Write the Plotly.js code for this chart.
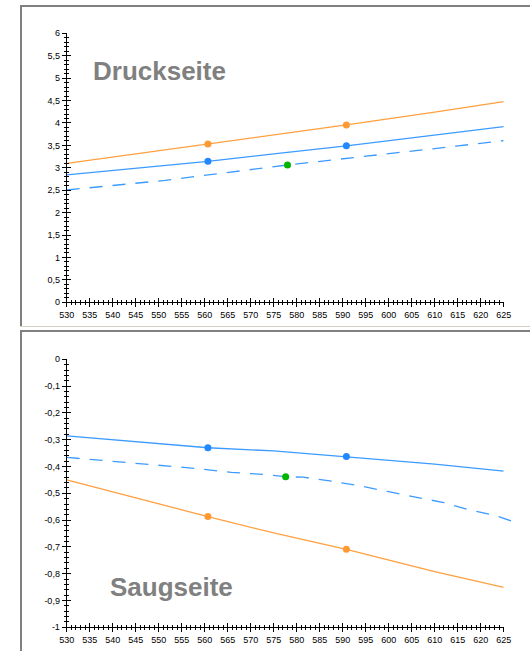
<!DOCTYPE html>
<html>
<head>
<meta charset="utf-8">
<script src="https://cdn.plot.ly/plotly-3.0.1.min.js"></script>
<style>
html,body{margin:0;padding:0;background:#fff;}
#chart{width:530px;height:651px;}
</style>
</head>
<body>
<div id="chart"></div>
<script>
// ---- data ----
var xTickVals = [530,535,540,545,550,555,560,565,570,575,580,585,590,595,600,605,610,615,620,625];
var xTickText = ["530","535","540","545","550","555","560","565","570","575","580","585","590","595","600","605","610","615","620","625"];
var yTopTickVals = [0,0.5,1,1.5,2,2.5,3,3.5,4,4.5,5,5.5,6];
var yTopTickText = ["0","0,5","1","1,5","2","2,5","3","3,5","4","4,5","5","5,5","6"];
var yBotTickVals = [0,-0.1,-0.2,-0.3,-0.4,-0.5,-0.6,-0.7,-0.8,-0.9,-1];
var yBotTickText = ["0","-0,1","-0,2","-0,3","-0,4","-0,5","-0,6","-0,7","-0,8","-0,9","-1"];

// Druckseite (top)
var topOrangeX = [530, 545, 560.7, 575, 590.8, 610, 625];
var topOrangeY = [3.10, 3.31, 3.53, 3.73, 3.955, 4.24, 4.475];
var topBlueX = [530, 545, 560.7, 575, 590.8, 625];
var topBlueY = [2.84, 2.99, 3.145, 3.31, 3.49, 3.92];
var topDashX = [530, 551.4, 578, 601.2, 615, 625];
var topDashY = [2.505, 2.72, 3.063, 3.32, 3.487, 3.605];
var topOrangePtsX = [560.7, 590.8];
var topOrangePtsY = [3.53, 3.955];
var topBluePtsX = [560.7, 590.8];
var topBluePtsY = [3.145, 3.49];
var topGreenX = [578];
var topGreenY = [3.063];

// Saugseite (bottom)
var botBlueX = [530, 545, 560.7, 575, 590.8, 610, 625];
var botBlueY = [-0.286, -0.308, -0.330, -0.342, -0.363, -0.391, -0.417];
var botDashX = [530, 536.8, 543.8, 550.4, 557.9, 565.8, 573.1, 577.6, 581.4, 587.2, 594.0, 599.7, 606.5, 612.0, 617.5, 622.8, 627];
var botDashY = [-0.366, -0.376, -0.386, -0.396, -0.407, -0.422, -0.430, -0.438, -0.440, -0.454, -0.473, -0.493, -0.515, -0.535, -0.562, -0.581, -0.605];
var botOrangeX = [530, 545, 560.7, 575, 590.8, 610, 625];
var botOrangeY = [-0.450, -0.518, -0.587, -0.648, -0.709, -0.792, -0.851];
var botOrangePtsX = [560.7, 590.8];
var botOrangePtsY = [-0.587, -0.709];
var botBluePtsX = [560.7, 590.8];
var botBluePtsY = [-0.330, -0.363];
var botGreenX = [577.6];
var botGreenY = [-0.438];

// ---- styles ----
var W = 530, H = 651;
function px(x){ return x / W; }
function py(y){ return 1 - y / H; }
var cOrangeLine = '#ffa040', cOrangeDot = '#ff9933';
var cBlueLine = '#3d9bff', cBlueDot = '#2288ff';
var cGreen = '#00b400';
var tickFont = {family: 'Liberation Sans Narrow, Arial Narrow, Arial, sans-serif', size: 9, color: '#000'};

function line(x, y, color, xa, ya, dash){
  return {x: x, y: y, xaxis: xa, yaxis: ya, type: 'scatter', mode: 'lines',
          line: {color: color, width: 1.3, dash: dash || 'solid'}, hoverinfo: 'skip', showlegend: false};
}
function pts(x, y, color, xa, ya){
  return {x: x, y: y, xaxis: xa, yaxis: ya, type: 'scatter', mode: 'markers',
          marker: {color: color, size: 7}, hoverinfo: 'skip', showlegend: false};
}
function holder(xa, ya){
  return {x: [null], y: [null], xaxis: xa, yaxis: ya, type: 'scatter', mode: 'lines',
          hoverinfo: 'skip', showlegend: false};
}

var traces = [
  line(topOrangeX, topOrangeY, cOrangeLine, 'x', 'y'),
  line(topBlueX, topBlueY, cBlueLine, 'x', 'y'),
  line(topDashX, topDashY, cBlueLine, 'x', 'y', '13px,10px'),
  pts(topOrangePtsX, topOrangePtsY, cOrangeDot, 'x', 'y'),
  pts(topBluePtsX, topBluePtsY, cBlueDot, 'x', 'y'),
  pts(topGreenX, topGreenY, cGreen, 'x', 'y'),
  line(botBlueX, botBlueY, cBlueLine, 'x2', 'y2'),
  line(botDashX, botDashY, cBlueLine, 'x3', 'y2', '13px,10px'),
  line(botOrangeX, botOrangeY, cOrangeLine, 'x2', 'y2'),
  pts(botOrangePtsX, botOrangePtsY, cOrangeDot, 'x2', 'y2'),
  pts(botBluePtsX, botBluePtsY, cBlueDot, 'x2', 'y2'),
  pts(botGreenX, botGreenY, cGreen, 'x3', 'y2')
];

var xDom = [px(66.7), px(503.7)];
var xDomExt = [px(66.7), px(66.7 + 97 * 4.6)];
var yDomTop = [py(302.3), py(33.3)];
var yDomBot = [py(627.3), py(359.3)];

function baseAxis(dom, anchor, range){
  return {domain: dom, anchor: anchor, range: range, showgrid: false, zeroline: false, fixedrange: true,
          showline: true, linecolor: '#000', linewidth: 1, tickcolor: '#000', tickwidth: 1, tickfont: tickFont};
}
var layout = {
  width: W, height: H, margin: {l: 0, r: 0, t: 0, b: 0},
  paper_bgcolor: '#ffffff', plot_bgcolor: 'rgba(0,0,0,0)', showlegend: false,
  annotations: [
    {text: '<b>Druckseite</b>', xref: 'paper', yref: 'paper', x: px(159.5), y: py(71), xanchor: 'center', yanchor: 'middle',
     showarrow: false, font: {family: 'Arial, Liberation Sans, sans-serif', size: 26, color: '#808080'}},
    {text: '<b>Saugseite</b>', xref: 'paper', yref: 'paper', x: px(171), y: py(587), xanchor: 'center', yanchor: 'middle',
     showarrow: false, font: {family: 'Arial, Liberation Sans, sans-serif', size: 26, color: '#808080'}}
  ]
};

function mainAxis(dom, anchor, range, tv, tt){
  var a = baseAxis(dom, anchor, range);
  a.tickmode = 'array'; a.tickvals = tv; a.ticktext = tt; a.ticks = 'outside'; a.ticklen = 4;
  return a;
}
layout.xaxis = mainAxis(xDom, 'y', [530, 625], xTickVals, xTickText);
layout.xaxis2 = mainAxis(xDom, 'y2', [530, 625], xTickVals, xTickText);
layout.xaxis3 = {domain: xDomExt, anchor: 'y2', range: [530, 627], visible: false, fixedrange: true};
layout.yaxis = mainAxis(yDomTop, 'x', [0, 6], yTopTickVals, yTopTickText);
layout.yaxis2 = mainAxis(yDomBot, 'x2', [-1, 0], yBotTickVals, yBotTickText);

var xN = 4, yN = 3;
function addOverlays(letter, base, dom, anchor, range, tick0, majorStep, minorStep, otherAxisId){
  var specs = [
    {dtick: majorStep, ticks: 'inside', len: 4},
    {dtick: minorStep, ticks: 'inside', len: 2},
    {dtick: minorStep, ticks: 'outside', len: 2}
  ];
  specs.forEach(function(s){
    var n = (letter === 'x') ? xN++ : yN++;
    var a = baseAxis(dom, anchor, range);
    a.overlaying = base; a.tickmode = 'linear'; a.tick0 = tick0; a.dtick = s.dtick;
    a.ticks = s.ticks; a.ticklen = s.len; a.showticklabels = false;
    a.side = (letter === 'x') ? 'bottom' : 'left';
    layout[letter + 'axis' + n] = a;
    if (letter === 'x') traces.push(holder('x' + n, otherAxisId));
    else traces.push(holder(otherAxisId, 'y' + n));
  });
}
addOverlays('x', 'x', xDom, 'y', [530, 625], 530, 5, 1, 'y');
addOverlays('x', 'x2', xDom, 'y2', [530, 625], 530, 5, 1, 'y2');
addOverlays('y', 'y', yDomTop, 'x', [0, 6], 0, 0.5, 0.1, 'x');
addOverlays('y', 'y2', yDomBot, 'x2', [-1, 0], 0, 0.1, 0.02, 'x2');

var frameCol = '#808080';
layout.shapes = [
  {type: 'line', xref: 'paper', yref: 'paper', x0: px(21), x1: px(21), y0: py(5), y1: py(327), line: {color: frameCol, width: 2}},
  {type: 'line', xref: 'paper', yref: 'paper', x0: px(20), x1: px(530), y0: py(6), y1: py(6), line: {color: frameCol, width: 2}},
  {type: 'line', xref: 'paper', yref: 'paper', x0: px(20), x1: px(530), y0: py(326.5), y1: py(326.5), line: {color: '#d4d0c8', width: 1}},
  {type: 'line', xref: 'paper', yref: 'paper', x0: px(21), x1: px(21), y0: py(330), y1: py(651), line: {color: frameCol, width: 2}},
  {type: 'line', xref: 'paper', yref: 'paper', x0: px(20), x1: px(530), y0: py(331), y1: py(331), line: {color: frameCol, width: 2}}
];

Plotly.newPlot('chart', traces, layout, {displayModeBar: false, staticPlot: true});
</script>
</body>
</html>
